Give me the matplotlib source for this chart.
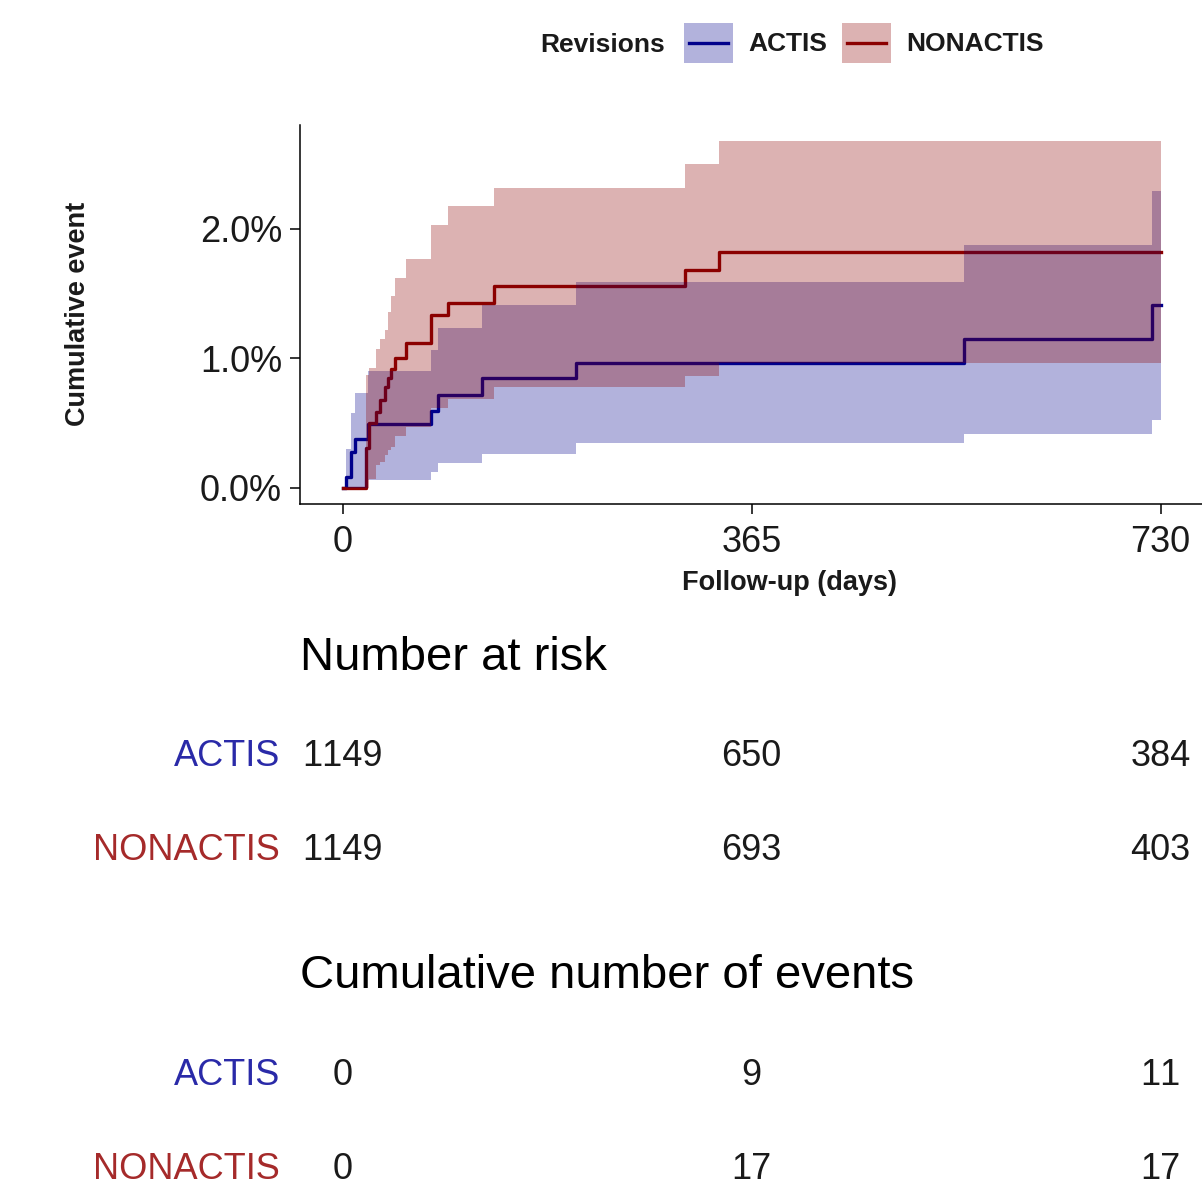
import numpy as np
import matplotlib
matplotlib.use("Agg")
import matplotlib.pyplot as plt
from matplotlib.patches import Rectangle
from matplotlib.lines import Line2D
from matplotlib.legend_handler import HandlerBase
from matplotlib.transforms import blended_transform_factory

plt.rcParams['font.family'] = ['Liberation Sans', 'DejaVu Sans']
plt.rcParams['text.kerning_factor'] = 6  # R output has no kerning ("1149")

# cumulative incidence (%), step functions
actis_t = [0, 3, 7.5, 11, 23, 79, 85, 124, 208, 555, 722, 730]
actis_est = [0, 0.087, 0.28, 0.376, 0.49, 0.597, 0.718, 0.847, 0.967, 1.148, 1.413, 1.413]
actis_up = [0, 0.30, 0.58, 0.735, 0.905, 1.066, 1.233, 1.413, 1.593, 1.876, 2.29, 2.29]
actis_lo = [0, 0, 0, 0, 0.06, 0.126, 0.19, 0.26, 0.345, 0.42, 0.525, 0.525]

non_t = [0, 21, 24, 30, 33, 38, 40.5, 43, 47, 57, 79, 94, 135, 306, 336, 730]
non_est = [0, 0.31, 0.50, 0.59, 0.68, 0.78, 0.85, 0.92, 1.00, 1.117, 1.336, 1.43, 1.56, 1.68, 1.825, 1.825]
non_up = [0, 0.87, 0.925, 1.07, 1.15, 1.22, 1.36, 1.48, 1.62, 1.766, 2.03, 2.18, 2.32, 2.50, 2.68, 2.68]
non_lo = [0, 0.0, 0.07, 0.18, 0.20, 0.255, 0.29, 0.32, 0.40, 0.47, 0.615, 0.69, 0.777, 0.865, 0.967, 0.967]

groups = ['ACTIS', 'NONACTIS']
table_times = [0, 365, 730]
at_risk = {'ACTIS': [1149, 650, 384], 'NONACTIS': [1149, 693, 403]}
cum_events = {'ACTIS': [0, 9, 11], 'NONACTIS': [0, 17, 17]}

blue = '#00008B'
red = '#8B0000'
label_cols = {'ACTIS': '#2a2aa8', 'NONACTIS': '#a52a2a'}
txt = '#1a1a1a'


class KeyHandler(HandlerBase):
    # ggplot-like key: shaded box with the line across it
    def create_artists(self, legend, orig_handle, xdescent, ydescent, width, height, fontsize, trans):
        c = orig_handle.get_color()
        box = Rectangle((-xdescent, -ydescent), width, height, fc=c, alpha=0.3, lw=0, transform=trans)
        ym = -ydescent + height / 2
        ln = Line2D([-xdescent + 0.1 * width, -xdescent + 0.9 * width], [ym, ym],
                    color=c, lw=2.4, transform=trans)
        return [box, ln]


W, H = 1202, 1189
fig = plt.figure(figsize=(W / 100, H / 100), dpi=100)
ax = fig.add_axes([300 / W, 1 - 504 / H, 902 / W, 379 / H])

# lines under ribbons, like the original
ax.step(actis_t, actis_est, where='post', color=blue, lw=2.4, zorder=1)
ax.step(non_t, non_est, where='post', color=red, lw=2.4, zorder=1)
ax.fill_between(actis_t, actis_lo, actis_up, step='post', color=blue, alpha=0.3, lw=0, zorder=2)
ax.fill_between(non_t, non_lo, non_up, step='post', color=red, alpha=0.3, lw=0, zorder=2)

ax.set_xlim(-38, 767)
ax.set_ylim(-0.124, 2.803)
ax.set_xticks(table_times)
ax.set_xticklabels([str(t) for t in table_times])
ax.set_yticks([0, 1, 2])
ax.set_yticklabels(['0.0%', '1.0%', '2.0%'])
ax.tick_params(axis='both', labelsize=26, length=7, width=1.1, colors='black', labelcolor=txt)
ax.tick_params(axis='x', pad=8)
ax.tick_params(axis='y', pad=6)
for s in ['top', 'right']:
    ax.spines[s].set_visible(False)
for s in ['left', 'bottom']:
    ax.spines[s].set_linewidth(1.1)

fig.text(78 / W, 1 - 314 / H, 'Cumulative event', rotation=90, ha='center', va='center',
         fontsize=19.5, fontweight='bold', color=txt)
fig.text(790 / W, 1 - 583 / H, 'Follow-up (days)', ha='center', va='center',
         fontsize=19.5, fontweight='bold', color=txt)

# legend
handles = [Line2D([], [], color=blue), Line2D([], [], color=red)]
leg = fig.legend(handles, groups, handler_map={Line2D: KeyHandler()},
                 loc='center left', bbox_to_anchor=(684 / W, 1 - 43 / H), ncol=2,
                 frameon=False, borderpad=0, borderaxespad=0, handlelength=1.85,
                 handleheight=1.95, handletextpad=0.6, columnspacing=0.55,
                 prop={'size': 19, 'weight': 'bold'})
for t in leg.get_texts():
    t.set_color(txt)
fig.text(665 / W, 1 - 45 / H, 'Revisions', ha='right', va='center',
         fontsize=19, fontweight='bold', color=txt)

# tables under the plot
tr = blended_transform_factory(ax.transData, fig.transFigure)


def draw_table(title, values, title_base, row_bases):
    fig.text(300 / W, 1 - title_base / H, title, ha='left', va='baseline', fontsize=34, color='black')
    for g, yb in zip(groups, row_bases):
        fig.text(280 / W, 1 - yb / H, g, ha='right', va='baseline', fontsize=26, color=label_cols[g])
        for t, v in zip(table_times, values[g]):
            ax.text(t, 1 - yb / H, str(v), transform=tr, ha='center', va='baseline',
                    fontsize=26, color=txt, clip_on=False)


draw_table('Number at risk', at_risk, 670, [766, 860])
draw_table('Cumulative number of events', cum_events, 988, [1085, 1179])

fig.savefig('out.png', dpi=100)
